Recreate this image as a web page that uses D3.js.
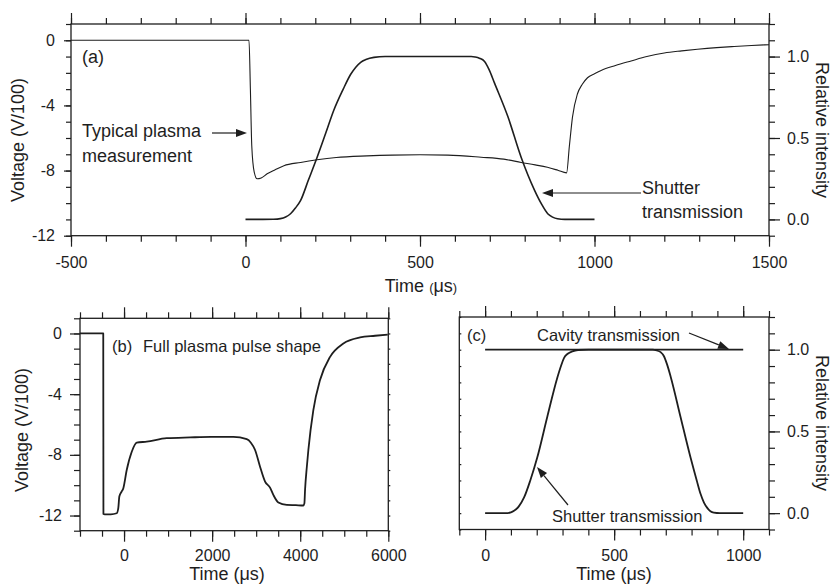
<!DOCTYPE html>
<html>
<head>
<meta charset="utf-8">
<script src="https://cdn.jsdelivr.net/npm/d3@7"></script>
<style>
 body{margin:0;background:#fff;}
</style>
</head>
<body>
<svg id="fig" width="834" height="586"></svg>
<script>
// ---- panel (a): typical plasma measurement (V/100) and shutter transmission
var aPlasmaT = [-500, 10, 14, 18, 25, 33, 45, 62, 85, 110, 158, 205, 260, 348, 420, 500, 580, 675, 740, 790, 830, 865, 895, 920, 928, 937, 951, 965, 980, 1000, 1019, 1060, 1105, 1150, 1200, 1250, 1295, 1350, 1400, 1450, 1500];
var aPlasmaV = [0, 0, -3, -6.5, -8.1, -8.5, -8.45, -8.2, -7.95, -7.7, -7.5, -7.34, -7.2, -7.1, -7.05, -7.03, -7.05, -7.18, -7.3, -7.5, -7.65, -7.8, -7.98, -8.14, -6.5, -4.7, -3.3, -2.7, -2.3, -2.05, -1.85, -1.55, -1.27, -1.0, -0.78, -0.65, -0.55, -0.45, -0.38, -0.32, -0.27];
var aShutT = [0, 50, 80, 100, 115, 129, 143, 158, 180, 205, 230, 253, 280, 301, 316, 330, 345, 368, 400, 500, 600, 647, 658, 670, 685, 698, 713, 752, 790, 828, 848, 866, 880, 894, 915, 1000];
var aShutI = [0, 0, 0.001, 0.005, 0.015, 0.035, 0.07, 0.117, 0.24, 0.38, 0.53, 0.67, 0.8, 0.89, 0.935, 0.965, 0.982, 0.995, 1, 1, 1, 1, 0.997, 0.99, 0.97, 0.92, 0.84, 0.63, 0.38, 0.18, 0.095, 0.035, 0.014, 0.004, 0, 0];
var aXLabels = [-500, 0, 500, 1000, 1500];
var aYLabels = [-12, -8, -4, 0];
var aRLabels = [0, 0.5, 1];

// ---- panel (b): full plasma pulse shape
var bPlasmaT = [-1000, -472, -468, -440, -300, -166, -130, -107, -60, -16, 61, 175, 288, 515, 970, 1500, 1975, 2482, 2786, 2880, 2975, 3088, 3202, 3315, 3390, 3504, 3694, 3900, 4071, 4095, 4110, 4150, 4185, 4298, 4450, 4678, 4980, 5359, 5700, 5988];
var bPlasmaV = [0, 0, -11.9, -11.92, -11.92, -11.85, -11.5, -10.75, -10.45, -10.2, -9.0, -7.8, -7.2, -7.13, -6.9, -6.85, -6.82, -6.82, -6.97, -7.2, -7.68, -8.78, -9.76, -10.16, -10.64, -11.14, -11.3, -11.32, -11.34, -11.2, -10.3, -8.8, -7.68, -5.05, -3.07, -1.54, -0.66, -0.26, -0.15, -0.07];
var bXLabels = [0, 2000, 4000, 6000];
var bYLabels = [-12, -8, -4, 0];

// ---- panel (c): cavity and shutter transmission
var cCavT = [0, 250, 500, 750, 1000];
var cCavI = [1, 1, 1, 1, 1];
var cShutT = [0, 80, 100, 112, 130, 151, 175, 202, 241, 280, 295, 306, 320, 338, 360, 400, 500, 600, 650, 665, 680, 693, 705, 719, 757, 796, 820, 835, 848, 860, 873, 886, 910, 1000];
var cShutI = [0, 0, 0.005, 0.014, 0.04, 0.096, 0.2, 0.34, 0.59, 0.83, 0.905, 0.95, 0.975, 0.99, 0.998, 1, 1, 1, 1, 0.995, 0.985, 0.96, 0.91, 0.835, 0.59, 0.34, 0.2, 0.117, 0.065, 0.034, 0.012, 0.003, 0, 0];
var cXLabels = [0, 500, 1000];
var cRLabels = [0, 0.5, 1];

var svg = d3.select("#fig");
var ink = "#1e1e1e";
var font = "Arial, 'Liberation Sans', Helvetica, sans-serif";

function zip(t, v){ return t.map(function(d,i){ return [d, v[i]]; }); }

function axisPart(axis, tr){
  var a = svg.append("g").attr("transform", tr).call(axis);
  a.select(".domain").remove();
  a.selectAll("line").attr("stroke", ink).attr("stroke-width", 1.2);
  a.selectAll("text").attr("fill", ink).style("font-family", font).style("font-size", "16px");
  return a;
}

function frame(x, y){
  svg.append("rect")
    .attr("x", x.range()[0]).attr("y", y.range()[1])
    .attr("width", x.range()[1]-x.range()[0]).attr("height", y.range()[0]-y.range()[1])
    .attr("fill", "none").attr("stroke", ink).attr("stroke-width", 1.3);
}

function curve(x, y, t, v, w){
  svg.append("path").datum(zip(t, v))
    .attr("d", d3.line().x(function(d){return x(d[0]);}).y(function(d){return y(d[1]);}).curve(d3.curveMonotoneX))
    .attr("fill", "none").attr("stroke", ink).attr("stroke-width", w).attr("stroke-linejoin", "round");
}

function txt(x, y, s, size, anchor){
  return svg.append("text").attr("x", x).attr("y", y).attr("fill", ink)
    .style("font-family", font).style("font-size", size+"px")
    .attr("text-anchor", anchor || "start").text(s);
}

function arrow(x1, y1, x2, y2){
  var ang = Math.atan2(y2-y1, x2-x1), L = 11, W = 4;
  var bx = x2 - L*Math.cos(ang), by = y2 - L*Math.sin(ang);
  svg.append("line").attr("x1", x1).attr("y1", y1).attr("x2", bx).attr("y2", by)
    .attr("stroke", ink).attr("stroke-width", 1.2);
  var px = -Math.sin(ang)*W, py = Math.cos(ang)*W;
  svg.append("polygon")
    .attr("points", [[x2,y2],[bx+px,by+py],[bx-px,by-py]].map(function(p){return p.join(",");}).join(" "))
    .attr("fill", ink);
}

var hy = function(d){ return String(d); };
var f1 = function(d){ return d.toFixed(1); };
var tenths = d3.range(-1, 12.1, 1).map(function(d){ return d/10; });

// ================= panel (a)
var xa = d3.scaleLinear().domain([-500, 1500]).range([71, 769]);
var yaL = d3.scaleLinear().domain([-12, 1]).range([235.7, 24]);
var yaR = d3.scaleLinear().domain([-0.1, 1.2]).range([235.7, 24]);

axisPart(d3.axisBottom(xa).tickValues(d3.range(-500, 1501, 100)).tickSize(6).tickFormat(""), "translate(0,235.7)");
axisPart(d3.axisBottom(xa).tickValues(aXLabels).tickSize(11).tickPadding(10).tickFormat(hy), "translate(0,235.7)");
axisPart(d3.axisTop(xa).tickValues(d3.range(-500, 1501, 100)).tickSize(6).tickFormat(""), "translate(0,24)");
axisPart(d3.axisTop(xa).tickValues(aXLabels).tickSize(11).tickFormat(""), "translate(0,24)");
axisPart(d3.axisLeft(yaL).tickValues(d3.range(-12, 1.01, 1)).tickSize(5).tickFormat(""), "translate(71,0)");
axisPart(d3.axisLeft(yaL).tickValues(aYLabels).tickSize(7).tickPadding(9).tickFormat(hy), "translate(71,0)");
axisPart(d3.axisRight(yaR).tickValues(tenths).tickSize(6).tickFormat(""), "translate(769,0)");
axisPart(d3.axisRight(yaR).tickValues(aRLabels).tickSize(11).tickPadding(7).tickFormat(f1), "translate(769,0)");
frame(xa, yaL);

curve(xa, yaL, aPlasmaT, aPlasmaV, 1.1);
curve(xa, yaR, aShutT, aShutI, 1.6);

txt(82, 63, "(a)", 18);
txt(82, 137, "Typical plasma", 18);
txt(82, 162, "measurement", 18);
arrow(212, 133, 247, 133);
txt(642, 194, "Shutter", 18);
txt(642, 218, "transmission", 18);
arrow(641, 193, 542, 193);

var ta = txt(421, 292, "", 18, "middle");
ta.append("tspan").text("Time ");
ta.append("tspan").style("font-size", "13px").text("(");
ta.append("tspan").text("μs");
ta.append("tspan").style("font-size", "13px").text(")");
txt(0, 0, "Voltage (V/100)", 18, "middle").attr("transform", "translate(24,140) rotate(-90)");
txt(0, 0, "Relative intensity", 18, "middle").attr("transform", "translate(816,130) rotate(90)");

// ================= panel (b)
var xb = d3.scaleLinear().domain([-1000, 6000]).range([80, 388.3]);
var yb = d3.scaleLinear().domain([-13, 1]).range([530.7, 318.3]);

axisPart(d3.axisBottom(xb).tickValues(d3.range(-1000, 6001, 500)).tickSize(6).tickFormat(""), "translate(0,530.7)");
axisPart(d3.axisBottom(xb).tickValues(bXLabels).tickSize(11).tickPadding(8).tickFormat(hy), "translate(0,530.7)");
axisPart(d3.axisTop(xb).tickValues(d3.range(-1000, 6001, 500)).tickSize(6).tickFormat(""), "translate(0,318.3)");
axisPart(d3.axisTop(xb).tickValues(bXLabels).tickSize(11).tickFormat(""), "translate(0,318.3)");
axisPart(d3.axisLeft(yb).tickValues(d3.range(-13, 1.01, 1)).tickSize(6).tickFormat(""), "translate(80,0)");
axisPart(d3.axisLeft(yb).tickValues(bYLabels).tickSize(10).tickPadding(8).tickFormat(hy), "translate(80,0)");
axisPart(d3.axisRight(yb).tickValues(d3.range(-13, 1.01, 1)).tickSize(2).tickFormat(""), "translate(388.3,0)");
frame(xb, yb);

curve(xb, yb, bPlasmaT, bPlasmaV, 1.8);

txt(112, 352, "(b)", 16.5);
txt(143, 352, "Full plasma pulse shape", 16.5);
txt(227, 580, "Time (μs)", 18, "middle");
txt(0, 0, "Voltage (V/100)", 18, "middle").attr("transform", "translate(28,430) rotate(-90)");

// ================= panel (c)
var xc = d3.scaleLinear().domain([-100, 1100]).range([459.3, 769]);
var yc = d3.scaleLinear().domain([-0.1, 1.2]).range([529.5, 317]);

axisPart(d3.axisBottom(xc).tickValues(d3.range(-100, 1101, 100)).tickSize(6).tickFormat(""), "translate(0,529.5)");
axisPart(d3.axisBottom(xc).tickValues(cXLabels).tickSize(11).tickPadding(9).tickFormat(hy), "translate(0,529.5)");
axisPart(d3.axisTop(xc).tickValues(d3.range(-100, 1101, 100)).tickSize(6).tickFormat(""), "translate(0,317)");
axisPart(d3.axisTop(xc).tickValues(cXLabels).tickSize(11).tickFormat(""), "translate(0,317)");
axisPart(d3.axisRight(yc).tickValues(tenths).tickSize(6).tickFormat(""), "translate(769,0)");
axisPart(d3.axisRight(yc).tickValues(cRLabels).tickSize(11).tickPadding(7).tickFormat(f1), "translate(769,0)");
axisPart(d3.axisLeft(yc).tickValues(tenths).tickSize(-2).tickFormat(""), "translate(459.3,0)");
frame(xc, yc);

curve(xc, yc, cCavT, cCavI, 1.8);
curve(xc, yc, cShutT, cShutI, 1.8);

txt(467, 341, "(c)", 16.5);
txt(537, 341, "Cavity transmission", 16.5);
arrow(689, 333, 729, 349);
txt(552, 522, "Shutter transmission", 16.5);
arrow(568, 505, 537, 467);
txt(614, 580, "Time (μs)", 18, "middle");
txt(0, 0, "Relative intensity", 18, "middle").attr("transform", "translate(816,423) rotate(90)");
</script>
</body>
</html>
